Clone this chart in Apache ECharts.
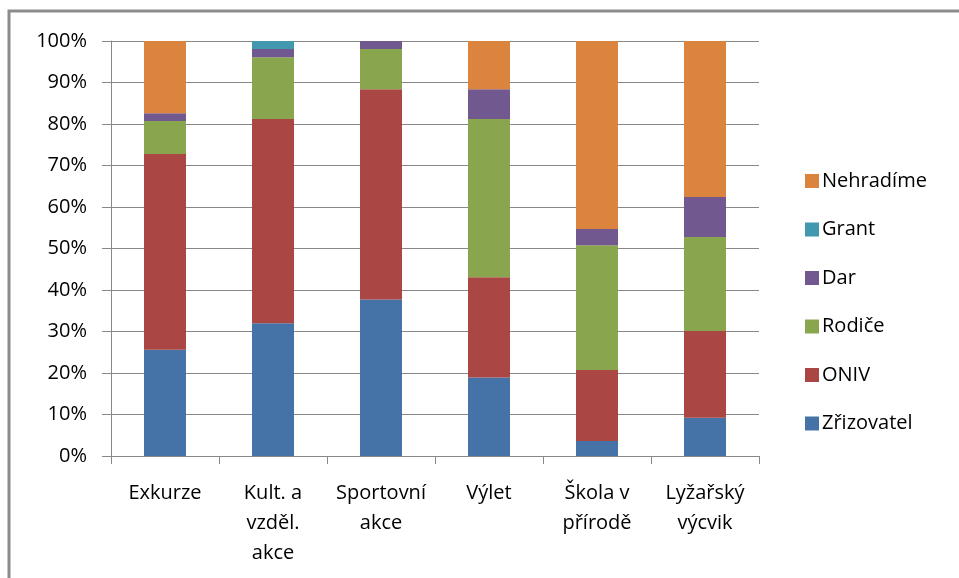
<!DOCTYPE html>
<html lang="cs">
<head>
    <meta charset="UTF-8">
    <title>Financování akcí</title>
    <script src="https://cdn.jsdelivr.net/npm/echarts@6.0.0/dist/echarts.min.js"></script>
    <style>
        html, body { margin: 0; padding: 0; background: #fff; }
    </style>
</head>
<body>
    <div id="main" style="width: 959px;height:578px;"></div>

    <script>
        // kategorie a podíly (v %)
        var categories = ['Exkurze', 'Kult. a\nvzděl.\nakce', 'Sportovní\nakce', 'Výlet', 'Škola v\npřírodě', 'Lyžařský\nvýcvik'];
        var zrizovatel = [25.6, 32.0, 37.7, 18.9, 3.6, 9.2];
        var oniv       = [47.2, 49.2, 50.7, 24.2, 17.1, 20.9];
        var rodice     = [7.9, 14.9, 9.7, 38.1, 30.1, 22.7];
        var dar        = [1.9, 2.0, 1.9, 7.2, 3.9, 9.6];
        var grant      = [0, 1.9, 0, 0, 0, 0];
        var nehradime  = [17.4, 0, 0, 11.6, 45.3, 37.6];

        var seriesNames = ['Zřizovatel', 'ONIV', 'Rodiče', 'Dar', 'Grant', 'Nehradíme'];
        var seriesData = [zrizovatel, oniv, rodice, dar, grant, nehradime];
        var colors = ['#4572A7', '#AA4643', '#89A54E', '#71588F', '#4198AF', '#DB843D'];

        var font = '"Open Sans", Lato, sans-serif';
        var myChart = echarts.init(document.getElementById('main'));

        var option = {
            animation: false,
            color: colors,
            textStyle: { fontFamily: font },
            graphic: [{
                type: 'rect',
                shape: { x: 9, y: 11, width: 1000, height: 600 },
                style: { fill: 'none', stroke: '#8c8c8c', lineWidth: 3 },
                silent: true
            }],
            grid: { left: 111, right: 200, top: 41, bottom: 122 },
            legend: {
                orient: 'vertical',
                left: 800,
                top: 166,
                itemGap: 28.5,
                itemWidth: 14,
                itemHeight: 14,
                icon: 'rect',
                textStyle: { fontFamily: font, fontSize: 20, color: '#000', padding: [0, 0, 0, -2] },
                data: ['Nehradíme', 'Grant', 'Dar', 'Rodiče', 'ONIV', 'Zřizovatel']
            },
            xAxis: {
                type: 'category',
                data: categories,
                axisLine: { lineStyle: { color: '#888', width: 1 } },
                axisTick: { show: true, length: 8, lineStyle: { color: '#888' } },
                axisLabel: {
                    color: '#000',
                    fontSize: 20,
                    lineHeight: 30,
                    margin: 22,
                    interval: 0,
                    fontFamily: font
                }
            },
            yAxis: {
                type: 'value',
                min: 0,
                max: 100,
                interval: 10,
                axisLine: { show: true, lineStyle: { color: '#888', width: 1 } },
                axisTick: { show: true, length: 9, lineStyle: { color: '#888' } },
                splitLine: { lineStyle: { color: '#888', width: 1 } },
                axisLabel: {
                    formatter: '{value}%',
                    color: '#000',
                    fontSize: 20,
                    margin: 24,
                    fontFamily: font
                }
            },
            series: seriesNames.map(function(name, i) {
                return {
                    name: name,
                    type: 'bar',
                    stack: 'total',
                    barWidth: 42,
                    data: seriesData[i]
                };
            })
        };

        myChart.setOption(option);
    </script>
</body>
</html>
